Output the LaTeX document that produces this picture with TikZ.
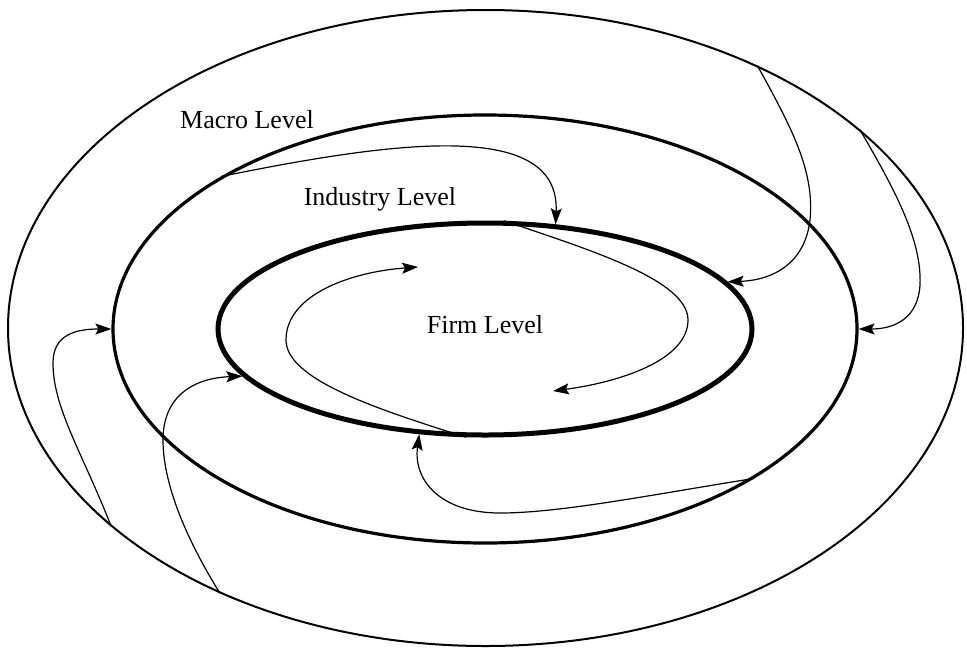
\documentclass[tikz,border=0pt]{standalone}
\usepackage{fontspec}
\setmainfont{Liberation Serif}
\usetikzlibrary{arrows,arrows.meta,shapes.geometric}

\begin{document}
\begin{tikzpicture}[
x=0.5pt, y=-0.5pt,
ring/.style={draw, ellipse, inner sep=0pt},
lvl/.style={font=\fontsize{13}{15}\selectfont, inner sep=0pt, anchor=base},
arrow/.style={-{Stealth[length=8pt,width=5.5pt,inset=1.5pt]},line width=0.6pt} ]

\useasboundingbox (0,0) rectangle (967,648);

\node[ring, line width=1pt, minimum width=477.5pt, minimum height=318pt] (macro) at (485.5,328) {};

\node[ring, line width=1.6pt, minimum width=372pt, minimum height=214pt] (industry) at (485,329) {};

\node[ring, line width=2.5pt, minimum width=267pt, minimum height=106pt] (firm) at (485,329) {};

\node[lvl] (macrolbl) at (247,128) {Macro Level};

\node[lvl] (industrylbl) at (380,205) {Industry Level};

\node[lvl] (firmlbl) at (485,333) {Firm Level};

\coordinate (loopR) at (553,391);

\coordinate (loopL) at (418,267);

\draw[arrow] (industry.150.5) .. controls (400,140) and (560,120) .. (firm.56);

\draw[arrow] (macro.44) .. controls (790,125) and (815,170) .. (810,220) .. controls (805,262) and (775,280) .. (firm.11);

\draw[arrow] (macro.28) .. controls (895,190) and (922,240) .. (920,285) .. controls (918,318) and (895,329) .. (industry.0);

\draw[arrow] (macro.208) .. controls (82,452) and (53,408) .. (53,363) .. controls (53,335) and (75,329) .. (industry.180);

\draw[arrow] (macro.225) .. controls (193,550) and (163,490) .. (163,440) .. controls (163,395) and (195,378) .. (firm.191);

\draw[arrow] (industry.331) .. controls (650,495) and (560,513) .. (500,513) .. controls (440,513) and (413,480) .. (firm.238);

\draw[arrow] (firm.80) .. controls (590,250) and (688,280) .. (688,320) .. controls (688,360) and (620,382) .. (loopR);

\draw[arrow] (firm.260) .. controls (380,410) and (286,380) .. (286,340) .. controls (286,295) and (350,272) .. (loopL);


\end{tikzpicture}
\end{document}
